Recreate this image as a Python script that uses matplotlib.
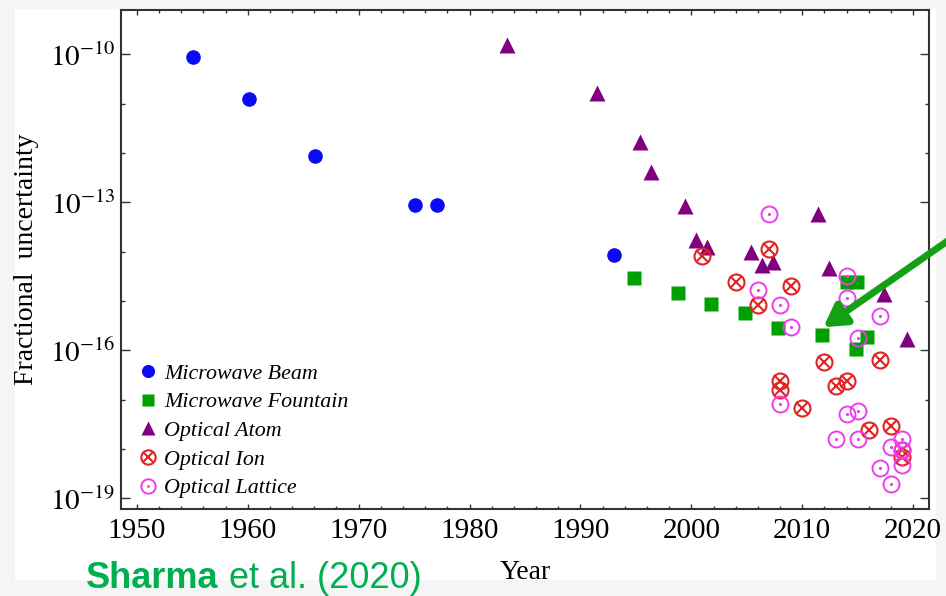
import numpy as np
import matplotlib.pyplot as plt
from matplotlib.ticker import FixedLocator, FuncFormatter
from matplotlib.legend_handler import HandlerTuple
from matplotlib.patches import Rectangle

plt.rcParams['font.family'] = 'serif'
plt.rcParams['font.serif'] = ['Liberation Serif', 'DejaVu Serif']
plt.rcParams['mathtext.fontset'] = 'stix'

# year, log10(fractional uncertainty)
beam_year = [1955.1, 1960.1, 1966.1, 1975.1, 1977.1, 1993.05]
beam_log = [-10.05, -10.91, -12.06, -13.05, -13.05, -14.07]

fountain_year = [1994.8, 1998.8, 2001.8, 2004.8, 2007.8, 2011.8, 2014.0, 2014.9, 2014.8, 2015.8]
fountain_log = [-14.54, -14.84, -15.06, -15.24, -15.54, -15.69, -14.62, -14.62, -15.98, -15.72]

atom_year = [1983.4, 1991.5, 1995.4, 1996.4, 1999.4, 2000.4, 2001.4, 2005.4, 2006.4,
             2007.4, 2011.4, 2012.4, 2017.4, 2019.4]
atom_log = [-9.81, -10.78, -11.77, -12.38, -13.07, -13.76, -13.90, -14.00, -14.27,
            -14.21, -13.23, -14.32, -14.85, -15.76]

ion_year = [2001.0, 2004.0, 2006.0, 2007.0, 2009.0, 2012.0, 2017.0, 2008.0, 2008.0,
            2013.0, 2014.0, 2010.0, 2016.0, 2018.0, 2019.0, 2019.0]
ion_log = [-14.09, -14.61, -15.08, -13.94, -14.70, -16.24, -16.20, -16.62, -16.80,
           -16.73, -16.62, -17.16, -17.62, -17.54, -18.02, -18.16]

lattice_year = [2007.0, 2014.0, 2006.0, 2014.0, 2008.0, 2009.0, 2017.0, 2015.0, 2008.0,
                2014.0, 2015.0, 2013.0, 2015.0, 2018.0, 2019.0, 2019.0, 2017.0, 2019.0, 2018.0]
lattice_log = [-13.23, -14.49, -14.77, -14.93, -15.08, -15.53, -15.30, -15.74, -17.09,
               -17.28, -17.23, -17.79, -17.79, -17.95, -17.79, -18.01, -18.39, -18.33, -18.70]

arrow_year = 2011.9
arrow_log = -15.53

def unc(v):
    return 10.0 ** np.array(v)

fig = plt.figure(figsize=(9.46, 5.96), dpi=100, facecolor='#f5f5f5')
fig.patches.append(Rectangle((15/946, 1-580/596), 921/946, 571/596, transform=fig.transFigure,
                             facecolor='white', edgecolor='none', zorder=-1))
ax = fig.add_axes([120.7/946, 1-509.3/596, 808.6/946, 499.3/596])
ax.set_facecolor('white')

blue = '#0a0af5'
green = '#00a000'
purple = '#800080'
red = '#e02424'
magenta = '#ee3cee'

h1, = ax.plot(beam_year, unc(beam_log), 'o', color=blue, ms=10.5, mec='none')
h2, = ax.plot(fountain_year, unc(fountain_log), 's', color=green, ms=9.5, mec='none')
h3, = ax.plot(atom_year, unc(atom_log), '^', color=purple, ms=11.5, mec='none')

h4a, = ax.plot(ion_year, unc(ion_log), 'o', ms=11.5, mfc='none', mec=red, mew=1.5)
h4b, = ax.plot(ion_year, unc(ion_log), 'x', ms=8, mec=red, mew=1.5)

h5a, = ax.plot(lattice_year, unc(lattice_log), 'o', ms=11.5, mfc='none', mec=magenta, mew=1.4)
h5b, = ax.plot(lattice_year, unc(lattice_log), 'o', ms=2.3, color=magenta, mec='none')

ax.set_yscale('log')
ax.set_xlim(1948.55, 2021.45)
ax.set_ylim(10**-19.22, 10**-9.10)

ax.xaxis.set_major_locator(FixedLocator(np.arange(1950, 2021, 10)))
ax.xaxis.set_minor_locator(FixedLocator(np.arange(1950, 2021, 2)))
ax.yaxis.set_major_locator(FixedLocator([1e-19, 1e-16, 1e-13, 1e-10]))
ax.yaxis.set_minor_locator(FixedLocator([10.0**k for k in range(-19, -9)]))
ax.yaxis.set_major_formatter(FuncFormatter(lambda v, p: r'$10^{%d}$' % round(np.log10(v))))
ax.yaxis.set_minor_formatter(FuncFormatter(lambda v, p: ''))

ax.tick_params(which='both', direction='in', top=True, right=True, color='#333333',
               labelsize=21, width=1)
ax.tick_params(axis='y', which='major', length=6.5, pad=4)
ax.tick_params(axis='y', which='minor', length=3.2)
ax.tick_params(axis='x', which='major', length=3.6, pad=6)
ax.tick_params(axis='x', which='minor', length=2.2)
for s in ax.spines.values():
    s.set_linewidth(1.5)
    s.set_color('#333333')

ax.set_xlabel('Year', fontsize=20, labelpad=12)
ax.set_ylabel('Fractional  uncertainty', fontsize=20, labelpad=8)

ax.legend([h1, h2, h3, (h4a, h4b), (h5a, h5b)],
          ['Microwave Beam', 'Microwave Fountain', 'Optical Atom', 'Optical Ion', 'Optical Lattice'],
          handler_map={tuple: HandlerTuple(ndivide=1, pad=0)},
          loc='upper left', bbox_to_anchor=(0.013, 0.31), frameon=False,
          prop={'style': 'italic', 'size': 15.8}, handlelength=0.7, handletextpad=0.4,
          labelspacing=0.38, markerscale=0.9, borderaxespad=0)

ax.annotate('', xy=(arrow_year, 10**arrow_log), xycoords='data',
            xytext=(975, 596-222), textcoords='figure pixels',
            arrowprops=dict(arrowstyle='-|>,head_length=0.6,head_width=0.35', lw=5,
                            color='#14a014', mutation_scale=22, shrinkA=0, shrinkB=0),
            annotation_clip=False)

t1 = fig.text(86/946, 1-588/596, 'Sharma', fontsize=26, color='#00b050',
              family='Liberation Sans', weight='bold', va='baseline')
fig.canvas.draw()
bb = t1.get_window_extent()
fig.text(bb.x1/946, 1-588/596, ' et al. (2020)', fontsize=26, color='#00b050',
         family='Liberation Sans', va='baseline')

fig.savefig('out.png', dpi=100, facecolor=fig.get_facecolor())
